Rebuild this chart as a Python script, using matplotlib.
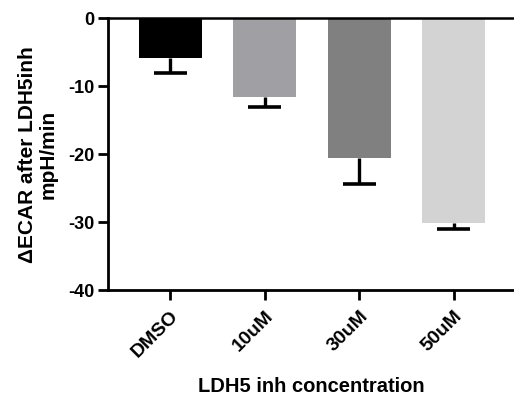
import matplotlib
matplotlib.use("Agg")
import matplotlib.pyplot as plt

categories = ["DMSO", "10uM", "30uM", "50uM"]
values = [-5.9, -11.7, -20.6, -30.2]
errors = [2.2, 1.4, 3.9, 0.8]
colors = ["#000000", "#a0a0a4", "#808080", "#d3d3d3"]
yticks = [0, -10, -20, -30, -40]

plt.rcParams['font.family'] = ['Liberation Sans', 'DejaVu Sans']
plt.rcParams['font.weight'] = 'bold'

fig = plt.figure(figsize=(5.14, 4.02), dpi=100)
ax = fig.add_axes([0.210, 0.277, 0.79, 0.676])

x = list(range(len(categories)))
bar_w = 0.667
cap_w = 0.35
ax.bar(x, values, width=bar_w, color=colors, zorder=2)
ends = [v - e for v, e in zip(values, errors)]
ax.vlines(x, values, ends, color='black', linewidth=2.4, zorder=3)
ax.hlines(ends, [xi - cap_w / 2 for xi in x], [xi + cap_w / 2 for xi in x],
          color='black', linewidth=2.6, zorder=3)

ax.set_xlim(-0.66, 3.64)
ax.set_ylim(-40, 0)
ax.set_yticks(yticks)
ax.set_yticklabels([str(t) for t in yticks], fontsize=13, fontweight='bold')
ax.set_xticks(x)
ax.set_xticklabels(categories, rotation=45, ha='right', rotation_mode='anchor',
                   fontsize=14, fontweight='bold')

for s in ['left', 'bottom']:
    ax.spines[s].set_linewidth(2)
ax.spines['right'].set_visible(False)
ax.spines['top'].set_linewidth(1.8)
ax.tick_params(axis='both', direction='out', width=2, length=7)
ax.tick_params(axis='y', pad=3)
ax.tick_params(axis='x', pad=5)

ax.set_ylabel("\u0394ECAR after LDH5inh\nmpH/min", fontsize=15, fontweight='bold',
              linespacing=1.05)
ax.yaxis.set_label_coords(-0.125, 0.5)
ax.set_xlabel("LDH5 inh concentration", fontsize=14.5, fontweight='bold', labelpad=12)

fig.savefig("out.png", dpi=100)
